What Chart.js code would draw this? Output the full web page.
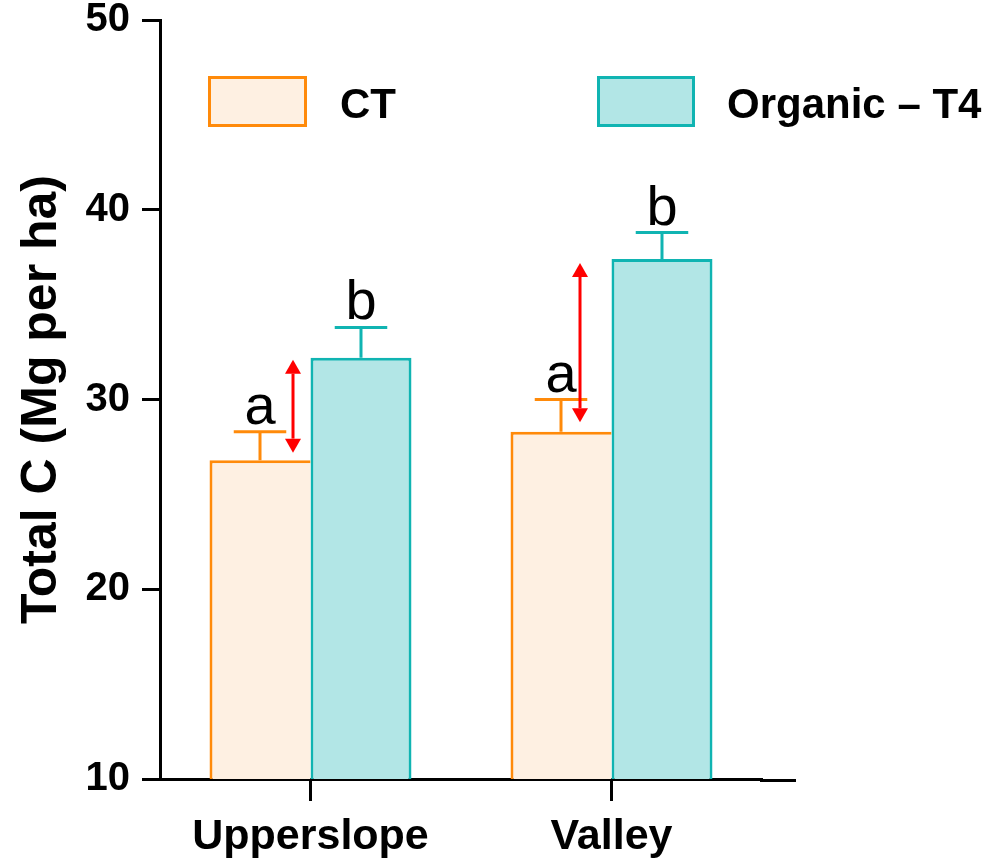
<!DOCTYPE html>
<html>
<head>
<meta charset="utf-8">
<title>Total C</title>
<script src="https://cdn.jsdelivr.net/npm/chart.js@4"></script>
<style>
    html, body { margin: 0; padding: 0; background: #fff; }
    #wrap { width: 989px; height: 862px; }
</style>
</head>
<body>
<div id="wrap"><canvas id="chart" width="989" height="862"></canvas></div>
<script>
var categories = ['Upperslope', 'Valley'];
var seriesNames = ['CT', 'Organic \u2013 T4'];
var ctValues = [26.8, 28.3];
var ctErrors = [1.5, 1.7];
var organicValues = [32.2, 37.4];
var organicErrors = [1.6, 1.4];
var ctLetters = ['a', 'a'];
var organicLetters = ['b', 'b'];
// red double arrows: upper and lower tip values
var arrowTop = [32.1, 37.2];
var arrowBottom = [27.2, 28.8];
var yTicks = [10, 20, 30, 40, 50];

var FONT = "'Liberation Sans', Arial, Helvetica, sans-serif";

var CT_FILL = '#FEF0E2';
var CT_LINE = '#FF8A0A';
var ORG_FILL = '#B2E6E6';
var ORG_LINE = '#10B4B2';

// error bars + significance letters
var errorBarPlugin = {
    id: 'errorBars',
    afterDatasetsDraw: function (chart) {
        var ctx = chart.ctx;
        var yScale = chart.scales.y;
        var sets = [
            { values: ctValues, errors: ctErrors, letters: ctLetters, color: CT_LINE },
            { values: organicValues, errors: organicErrors, letters: organicLetters, color: ORG_LINE }
        ];
        ctx.save();
        sets.forEach(function (s, i) {
            var meta = chart.getDatasetMeta(i);
            meta.data.forEach(function (bar, j) {
                var x = bar.x;
                var yBar = bar.y;
                var yTop = yScale.getPixelForValue(s.values[j] + s.errors[j]);
                var half = bar.width * 0.26;
                ctx.strokeStyle = s.color;
                ctx.lineWidth = 3;
                ctx.beginPath();
                ctx.moveTo(x, yBar);
                ctx.lineTo(x, yTop);
                ctx.moveTo(x - half, yTop);
                ctx.lineTo(x + half, yTop);
                ctx.stroke();

                ctx.fillStyle = '#000';
                ctx.font = '56px ' + FONT;
                ctx.textAlign = 'center';
                ctx.textBaseline = 'alphabetic';
                ctx.fillText(s.letters[j], x, yTop - 8);
            });
        });
        ctx.restore();
    }
};

var arrowPlugin = {
    id: 'diffArrows',
    afterDatasetsDraw: function (chart, args, opts) {
        var ctx = chart.ctx;
        var yScale = chart.scales.y;
        var meta = chart.getDatasetMeta(0);
        var head = 14, hw = 8;
        ctx.save();
        ctx.strokeStyle = '#FF0000';
        ctx.fillStyle = '#FF0000';
        ctx.lineWidth = 3;
        meta.data.forEach(function (bar, j) {
            var x = bar.x + opts.offsets[j];
            var y1 = yScale.getPixelForValue(arrowTop[j]);
            var y2 = yScale.getPixelForValue(arrowBottom[j]);
            ctx.beginPath();
            ctx.moveTo(x, y1 + head);
            ctx.lineTo(x, y2 - head);
            ctx.stroke();
            ctx.beginPath();
            ctx.moveTo(x, y1);
            ctx.lineTo(x - hw, y1 + head);
            ctx.lineTo(x + hw, y1 + head);
            ctx.closePath();
            ctx.fill();
            ctx.beginPath();
            ctx.moveTo(x, y2);
            ctx.lineTo(x - hw, y2 - head);
            ctx.lineTo(x + hw, y2 - head);
            ctx.closePath();
            ctx.fill();
        });
        ctx.restore();
    }
};

var legendPlugin = {
    id: 'boxLegend',
    afterDraw: function (chart, args, opts) {
        var ctx = chart.ctx;
        ctx.save();
        chart.data.datasets.forEach(function (ds, i) {
            var it = opts.items[i];
            ctx.fillStyle = ds.backgroundColor;
            ctx.fillRect(it.x, it.y, it.w, it.h);
            ctx.strokeStyle = ds.borderColor;
            ctx.lineWidth = 3;
            ctx.strokeRect(it.x + 1.5, it.y + 1.5, it.w - 3, it.h - 3);
            ctx.fillStyle = '#000';
            ctx.font = 'bold 42px ' + FONT;
            ctx.textAlign = 'left';
            ctx.textBaseline = 'middle';
            ctx.fillText(ds.label, it.tx, it.y + it.h / 2 + 5);
        });
        ctx.restore();
    }
};

// x axis line runs a bit past the last category
var axisExtendPlugin = {
    id: 'axisExtend',
    afterDraw: function (chart, args, opts) {
        var ctx = chart.ctx;
        var a = chart.chartArea;
        ctx.save();
        ctx.strokeStyle = '#000';
        ctx.lineWidth = 3;
        ctx.beginPath();
        ctx.moveTo(a.right - 2, a.bottom + 1.5);
        ctx.lineTo(a.right + opts.extra, a.bottom + 1.5);
        ctx.stroke();
        ctx.restore();
    }
};

var chart = new Chart(document.getElementById('chart'), {
    type: 'bar',
    data: {
        labels: categories,
        datasets: [{
            label: seriesNames[0],
            data: ctValues,
            backgroundColor: CT_FILL,
            borderColor: CT_LINE,
            borderWidth: { top: 3, left: 3, right: 0, bottom: 0 },
            borderSkipped: false
        }, {
            label: seriesNames[1],
            data: organicValues,
            backgroundColor: ORG_FILL,
            borderColor: ORG_LINE,
            borderWidth: { top: 3, left: 3, right: 3, bottom: 0 },
            borderSkipped: false
        }]
    },
    options: {
        responsive: false,
        animation: false,
        devicePixelRatio: 1,
        categoryPercentage: 0.671,
        barPercentage: 1,
        layout: {
            padding: { top: 20, right: 227, bottom: 0, left: 0 }
        },
        scales: {
            x: {
                offset: true,
                afterFit: function (s) {
                    s.height = 83;
                    s.paddingLeft = 0;
                    s.paddingRight = 0;
                },
                border: { display: true, width: 3, color: '#000' },
                grid: {
                    offset: false,
                    drawOnChartArea: false,
                    drawTicks: true,
                    tickLength: 22,
                    tickWidth: 3,
                    tickColor: '#000'
                },
                ticks: {
                    color: '#000',
                    padding: 10,
                    font: { family: FONT, size: 43, weight: 'bold', lineHeight: 1.2 }
                }
            },
            y: {
                min: 10,
                max: 50,
                afterBuildTicks: function (s) {
                    s.ticks = yTicks.map(function (v) { return { value: v }; });
                },
                afterFit: function (s) {
                    s.width = 160;
                    s.paddingTop = 0;
                    s.paddingBottom = 0;
                },
                border: { display: true, width: 3, color: '#000' },
                grid: {
                    drawOnChartArea: false,
                    drawTicks: true,
                    tickLength: 18,
                    tickWidth: 3,
                    tickColor: '#000'
                },
                ticks: {
                    color: '#000',
                    padding: 12,
                    font: { family: FONT, size: 40, weight: 'bold', lineHeight: 1 }
                },
                title: {
                    display: true,
                    text: 'Total C (Mg per ha)',
                    color: '#000',
                    padding: { top: 12, bottom: 0 },
                    font: { family: FONT, size: 50, weight: 'bold', lineHeight: 1.2 }
                }
            }
        },
        plugins: {
            legend: { display: false },
            tooltip: { enabled: false },
            diffArrows: { offsets: [33, 19] },
            boxLegend: {
                items: [
                    { x: 208, y: 76, w: 99, h: 51, tx: 340 },
                    { x: 597, y: 76, w: 98, h: 51, tx: 727 }
                ]
            },
            axisExtend: { extra: 34 }
        }
    },
    plugins: [errorBarPlugin, arrowPlugin, legendPlugin, axisExtendPlugin]
});
</script>
</body>
</html>
